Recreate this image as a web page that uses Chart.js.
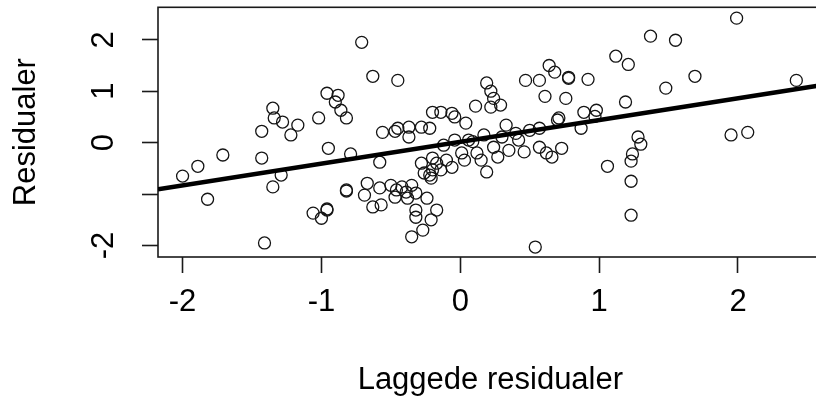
<!DOCTYPE html>
<html>
<head>
<meta charset="utf-8">
<script src="https://cdn.jsdelivr.net/npm/chart.js@4/dist/chart.umd.min.js"></script>
<style>
  html, body { margin: 0; padding: 0; background: #fff; overflow: hidden; }
  #wrap { width: 816px; height: 418px; overflow: hidden; position: relative; }
  canvas { display: block; }
</style>
</head>
<body>
<div id="wrap"><canvas id="c" width="830" height="418"></canvas></div>
<script>
// Lagged residuals (x) and residuals (y)
const laggedResid = [
  -2.00, -1.89, -1.82, -1.71, -1.43, -1.43, -1.41, -1.35, -1.34, -1.28,
  -1.22, -1.17, -1.35, -1.29, -1.02, -1.06, -1.00, -0.96, -0.96, -0.95,
  -0.96, -0.88, -0.90, -0.86, -0.82, -0.79, -0.82, -0.82, -0.71, -0.63,
  -0.58, -0.56, -0.45, -0.67, -0.58, -0.69, -0.63, -0.57, -0.50, -0.46,
  -0.47, -0.42, -0.39, -0.35, -0.32, -0.38, -0.24, -0.32, -0.32, -0.17,
  -0.21, -0.27, -0.35, -0.47, -0.45, -0.37, -0.28, -0.22, -0.20, -0.14,
  -0.06, -0.04, 0.04, -0.37, -0.28, -0.20, -0.17, -0.20, -0.22, -0.26,
  -0.21, -0.14, -0.10, -0.06, 0.01, 0.03, 0.12, 0.15, 0.19, 0.27,
  0.35, 0.46, 0.57, 0.62, 0.66, 0.73, 0.30, 0.40, 0.50, 0.57,
  0.42, 0.33, 0.70, 0.11, 0.19, 0.22, 0.24, 0.29, 0.22, 0.47,
  0.57, 0.64, 0.68, 0.78, 0.78, 0.92, 0.61, 0.76, 0.71, 0.89,
  0.98, 0.87, 0.54, 1.12, 1.21, 1.37, 1.55, 1.69, 1.48, 1.19,
  1.28, 1.30, 1.24, 1.23, 1.06, 1.23, 1.23, 1.95, 2.07, 1.99,
  2.42, -0.04, 0.06, 0.17, 0.24, 0.97, -0.12, 0.09
];
const residuals = [
  -0.65, -0.46, -1.10, -0.24, -0.30, 0.22, -1.95, 0.67, 0.48, 0.40,
  0.15, 0.34, -0.86, -0.63, 0.48, -1.37, -1.47, -1.31, -1.29, -0.11,
  0.96, 0.92, 0.79, 0.63, 0.48, -0.22, -0.94, -0.92, 1.95, 1.29,
  -0.38, 0.20, 1.21, -0.79, -0.88, -1.02, -1.25, -1.21, -0.83, -0.92,
  -1.06, -0.86, -0.96, -0.83, -0.98, -1.08, -1.08, -1.31, -1.45, -1.31,
  -1.50, -1.70, -1.83, 0.22, 0.28, 0.30, 0.30, 0.28, 0.59, 0.59,
  0.57, 0.50, 0.38, 0.11, -0.40, -0.30, -0.40, -0.53, -0.63, -0.59,
  -0.69, -0.53, -0.34, -0.48, -0.20, -0.34, -0.20, -0.34, -0.57, -0.28,
  -0.15, -0.18, -0.09, -0.20, -0.28, -0.11, 0.11, 0.18, 0.24, 0.28,
  0.05, 0.34, 0.44, 0.71, 1.16, 1.00, 0.86, 0.73, 0.69, 1.21,
  1.21, 1.50, 1.37, 1.27, 1.25, 1.23, 0.90, 0.86, 0.48, 0.59,
  0.63, 0.28, -2.03, 1.68, 1.52, 2.07, 1.99, 1.29, 1.06, 0.79,
  0.11, -0.03, -0.22, -0.36, -0.46, -0.75, -1.41, 0.15, 0.20, 2.42,
  1.21, 0.05, 0.05, 0.15, -0.09, 0.51, -0.05, 0.02
];
// Fitted regression line
const fitIntercept = 0.016;
const fitSlope = 0.423;
// Axes
const xRange = [-2.177, 2.61];
const yRange = [-2.223, 2.631];
const xTicks = [-2, -1, 0, 1, 2];
const xTickLabels = ['-2', '-1', '0', '1', '2'];
const yTicks = [-2, -1, 0, 1, 2];
const yTickLabels = ['-2', '', '0', '1', '2'];
const xTitle = 'Laggede residualer';
const yTitle = 'Residualer';

const points = laggedResid.map((x, i) => ({ x: x, y: residuals[i] }));
const fitLine = xRange.map(x => ({ x: x, y: fitIntercept + fitSlope * x }));

const FONT = "'Liberation Sans', Arial, sans-serif";
const FS = 31;

const boxPlugin = {
  id: 'box',
  beforeDatasetsDraw(chart) {
    const a = chart.chartArea, ctx = chart.ctx;
    ctx.save();
    ctx.strokeStyle = '#1a1a1a';
    ctx.lineWidth = 1.6;
    ctx.strokeRect(a.left, a.top, a.right - a.left, a.bottom - a.top);
    ctx.restore();
  }
};

new Chart(document.getElementById('c'), {
  type: 'scatter',
  data: {
    datasets: [
      {
        type: 'line',
        data: fitLine,
        borderColor: '#000',
        borderWidth: 4.5,
        pointRadius: 0,
        fill: false,
        order: 0
      },
      {
        type: 'scatter',
        data: points,
        pointStyle: 'circle',
        pointRadius: 6,
        pointBorderWidth: 1.3,
        borderColor: '#151515',
        backgroundColor: 'rgba(0,0,0,0)',
        order: 1
      }
    ]
  },
  options: {
    responsive: false,
    animation: false,
    events: [],
    layout: { padding: { top: 7, right: 5, left: 0, bottom: 0 } },
    plugins: { legend: { display: false }, tooltip: { enabled: false } },
    scales: {
      x: {
        type: 'linear',
        min: xRange[0], max: xRange[1],
        afterBuildTicks: s => { s.ticks = xTicks.map(v => ({ value: v })); },
        afterFit: s => { s.height = 161; s.paddingLeft = 0; s.paddingRight = 0; },
        grid: { drawOnChartArea: false, drawTicks: true, tickLength: 16, tickColor: '#1a1a1a', tickWidth: 1.6 },
        border: { display: false },
        ticks: {
          color: '#000',
          font: { family: FONT, size: FS },
          padding: 11,
          maxRotation: 0, minRotation: 0,
          callback: v => xTickLabels[xTicks.indexOf(v)] ?? ''
        },
        title: { display: true, text: xTitle, color: '#000', font: { family: FONT, size: FS }, padding: { top: 0, bottom: 19 } }
      },
      y: {
        type: 'linear',
        min: yRange[0], max: yRange[1],
        afterBuildTicks: s => { s.ticks = yTicks.map(v => ({ value: v })); },
        afterFit: s => { s.width = 158; s.paddingTop = 0; s.paddingBottom = 0; },
        grid: { drawOnChartArea: false, drawTicks: true, tickLength: 16, tickColor: '#1a1a1a', tickWidth: 1.6 },
        border: { display: false },
        ticks: {
          color: '#000',
          font: { family: FONT, size: FS },
          padding: 24,
          minRotation: 90, maxRotation: 90,
          crossAlign: 'center',
          callback: v => yTickLabels[yTicks.indexOf(v)] ?? ''
        },
        title: { display: true, text: yTitle, color: '#000', font: { family: FONT, size: FS }, padding: { top: 8, bottom: 0 } }
      }
    }
  },
  plugins: [boxPlugin]
});
</script>
</body>
</html>
